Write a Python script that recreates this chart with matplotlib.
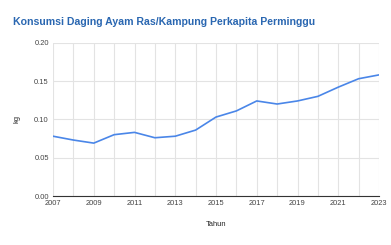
import matplotlib.pyplot as plt
import numpy as np

plt.rcParams["font.family"] = ["Liberation Sans", "DejaVu Sans"]

years = [2007, 2008, 2009, 2010, 2011, 2012, 2013, 2014, 2015,
         2016, 2017, 2018, 2019, 2020, 2021, 2022, 2023]
kg = [0.078, 0.073, 0.069, 0.080, 0.083, 0.076, 0.078, 0.086, 0.103,
      0.111, 0.124, 0.120, 0.124, 0.130, 0.142, 0.153, 0.158]

fig = plt.figure(figsize=(3.91, 2.45), dpi=100)
ax = fig.add_axes([53 / 391, 1 - 196 / 245, 326 / 391, 153.3 / 245])

ax.plot(years, kg, color="#4a86e8", linewidth=1.2, zorder=3)

ax.set_xlim(2007, 2023)
ax.set_ylim(0, 0.20)
ax.set_xticks(range(2007, 2024, 2))
ax.set_xticks(range(2007, 2024), minor=True)
ax.set_yticks(np.arange(0, 0.201, 0.05))
ax.set_yticklabels(["0.00", "0.05", "0.10", "0.15", "0.20"])
ax.grid(True, which="both", axis="x", color="#e3e3e3", linewidth=0.8)
ax.grid(True, which="major", axis="y", color="#e3e3e3", linewidth=0.8)
ax.tick_params(which="both", length=0, labelsize=5.4, colors="#444444", pad=3)
for s in ["top", "right", "left"]:
    ax.spines[s].set_visible(False)
ax.spines["bottom"].set_color("#333333")
ax.spines["bottom"].set_linewidth(0.8)

ax.set_xlabel("Tahun", fontsize=5.4, color="#222222", labelpad=10)
ax.set_ylabel("kg", fontsize=5.4, color="#222222", labelpad=10)

fig.text(13 / 391, 1 - 22 / 245, "Konsumsi Daging Ayam Ras/Kampung Perkapita Perminggu",
         fontsize=7.6, fontweight="bold", color="#2a67b1", va="center", ha="left")

fig.savefig("out.png", dpi=100)
